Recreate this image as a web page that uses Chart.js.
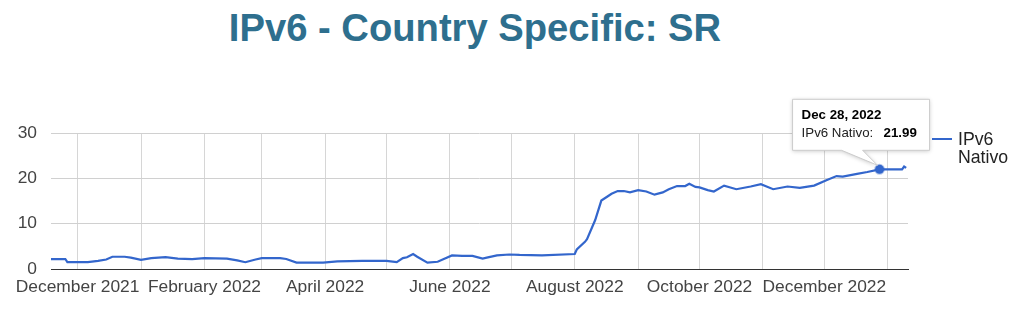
<!DOCTYPE html>
<html>
<head>
<meta charset="utf-8">
<script src="https://cdn.jsdelivr.net/npm/chart.js@4"></script>
<style>
  html, body { margin: 0; padding: 0; background: #fff; }
  #wrap { position: relative; width: 1024px; height: 309px; font-family: "Liberation Sans", Arial, sans-serif; }
  #title { position: absolute; left: 0; top: 8.5px; width: 950px; text-align: center; font-weight: bold; font-size: 38.2px; line-height: 38px; color: #2e6f8e; }
  #chart { position: absolute; left: 0; top: 0; }
  #legend-line { position: absolute; left: 932px; top: 138px; width: 20px; height: 2px; background: #3366cc; }
  #legend-text { position: absolute; left: 958px; top: 130px; font-size: 17.7px; line-height: 18px; color: #222; }
</style>
</head>
<body>
<div id="wrap">
  <div id="title">IPv6 - Country Specific: SR</div>
  <canvas id="chart" width="1024" height="309"></canvas>
  <div id="legend-line"></div>
  <div id="legend-text">IPv6<br>Nativo</div>
</div>
<script>
const seriesName = "IPv6 Nativo";

const dates = [
  "2021-11-18", "2021-11-25", "2021-11-26", "2021-12-06", "2021-12-11", "2021-12-15", "2021-12-18",
  "2021-12-24", "2021-12-27", "2022-01-01", "2022-01-06", "2022-01-13", "2022-01-19", "2022-01-26",
  "2022-02-01", "2022-02-12", "2022-02-17", "2022-02-21", "2022-02-26", "2022-03-01", "2022-03-10",
  "2022-03-13", "2022-03-18", "2022-03-31", "2022-04-07", "2022-04-19", "2022-05-01", "2022-05-06",
  "2022-05-09", "2022-05-11", "2022-05-14", "2022-05-16", "2022-05-21", "2022-05-26", "2022-05-29",
  "2022-06-02", "2022-06-07", "2022-06-12", "2022-06-17", "2022-06-19", "2022-06-24", "2022-06-30",
  "2022-07-05", "2022-07-16", "2022-08-01", "2022-08-02", "2022-08-06", "2022-08-07", "2022-08-11",
  "2022-08-14", "2022-08-17", "2022-08-19", "2022-08-22", "2022-08-25", "2022-08-28", "2022-09-01",
  "2022-09-05", "2022-09-09", "2022-09-13", "2022-09-16", "2022-09-20", "2022-09-24", "2022-09-26",
  "2022-09-29", "2022-10-01", "2022-10-05", "2022-10-08", "2022-10-13", "2022-10-19", "2022-10-26",
  "2022-10-31", "2022-11-06", "2022-11-13", "2022-11-19", "2022-11-26", "2022-12-02", "2022-12-07",
  "2022-12-10", "2022-12-17", "2022-12-22", "2022-12-28", "2023-01-08", "2023-01-09", "2023-01-10"
];

const values = [
  2.2, 2.2, 1.5, 1.5, 1.8, 2.1, 2.7,
  2.7, 2.5, 2.0, 2.4, 2.6, 2.3, 2.2,
  2.4, 2.3, 1.9, 1.5, 2.1, 2.4, 2.4,
  2.2, 1.4, 1.4, 1.7, 1.8, 1.8, 1.5,
  2.4, 2.6, 3.3, 2.7, 1.4, 1.6, 2.2,
  3.0, 2.9, 2.9, 2.3, 2.5, 3.0, 3.2,
  3.1, 3.0, 3.3, 4.3, 6.0, 6.6, 10.8,
  15.1, 16.0, 16.6, 17.2, 17.2, 16.9, 17.4,
  17.1, 16.4, 16.9, 17.6, 18.3, 18.3, 18.8,
  18.1, 18.0, 17.4, 17.1, 18.4, 17.6, 18.2,
  18.7, 17.6, 18.2, 17.9, 18.4, 19.6, 20.5,
  20.4, 21.0, 21.4, 21.99, 21.99, 22.6, 22.3
];

const monthTicks = [
  "2021-12-01", "2022-01-01", "2022-02-01", "2022-03-01", "2022-04-01", "2022-05-01", "2022-06-01",
  "2022-07-01", "2022-08-01", "2022-09-01", "2022-10-01", "2022-11-01", "2022-12-01", "2023-01-01"
];
const tickLabels = [
  "December 2021", "", "February 2022", "", "April 2022", "", "June 2022",
  "", "August 2022", "", "October 2022", "", "December 2022", ""
];

const hiDate = "2022-12-28";
const xMin = "2021-11-18";
const xMax = "2023-01-10";

const monthNames = ["Jan", "Feb", "Mar", "Apr", "May", "Jun", "Jul", "Aug", "Sep", "Oct", "Nov", "Dec"];
const FONT = "'Liberation Sans', Arial, sans-serif";

function dayOf(s) {
  const [y, m, d] = s.split("-").map(Number);
  return Date.UTC(y, m - 1, d) / 864e5;
}

function shortDate(s) {
  const [y, m, d] = s.split("-").map(Number);
  return `${monthNames[m - 1]} ${d}, ${y}`;
}

const hiIdx = dates.indexOf(hiDate);
const points = dates.map((d, i) => ({ x: dayOf(d), y: values[i] }));

// google style callout for the selected point
const calloutPlugin = {
  id: "callout",
  afterDraw(chart) {
    const pt = chart.getDatasetMeta(0).data[hiIdx];
    if (!pt) return;
    const c = chart.ctx;
    const px = pt.x, py = pt.y;
    const bx = px - 87, by = py - 70, bw = 137, bh = 51;

    c.save();
    c.beginPath();
    c.moveTo(bx, by);
    c.lineTo(bx + bw, by);
    c.lineTo(bx + bw, by + bh);
    c.lineTo(px - 17, by + bh);
    c.lineTo(px - 2, py - 4);
    c.lineTo(px - 38, by + bh);
    c.lineTo(bx, by + bh);
    c.closePath();
    c.shadowColor = "rgba(0,0,0,0.22)";
    c.shadowBlur = 4;
    c.shadowOffsetY = 1;
    c.fillStyle = "#fff";
    c.fill();
    c.shadowColor = "transparent";
    c.strokeStyle = "#cccccc";
    c.lineWidth = 1;
    c.stroke();

    c.fillStyle = "#000";
    c.textBaseline = "alphabetic";
    c.textAlign = "left";
    c.font = `bold 13.3px ${FONT}`;
    c.fillText(shortDate(hiDate), bx + 9, by + 20);
    c.font = `13.3px ${FONT}`;
    c.fillStyle = "#222";
    c.fillText(seriesName + ":", bx + 9, by + 38);
    c.font = `bold 13.3px ${FONT}`;
    c.fillStyle = "#000";
    c.fillText(values[hiIdx].toFixed(2), bx + 91, by + 38);
    c.restore();
  }
};

new Chart(document.getElementById("chart"), {
  type: "line",
  data: {
    datasets: [{
      label: seriesName,
      data: points,
      borderColor: "#3366cc",
      backgroundColor: "#3366cc",
      borderWidth: 2.2,
      tension: 0,
      pointRadius: (ctx) => ctx.dataIndex === hiIdx ? 4.5 : 0,
      pointBorderWidth: 2,
      pointBorderColor: "rgba(51,102,204,0.35)",
      pointBackgroundColor: "#3366cc"
    }]
  },
  options: {
    responsive: false,
    animation: false,
    events: [],
    layout: { padding: { top: 133, right: 116, left: 0, bottom: 0 } },
    plugins: {
      legend: { display: false },
      tooltip: { enabled: false },
      title: { display: false }
    },
    scales: {
      x: {
        type: "linear",
        min: dayOf(xMin),
        max: dayOf(xMax) + 0.9,
        afterBuildTicks: (scale) => {
          scale.ticks = monthTicks.map((m) => ({ value: dayOf(m) }));
        },
        afterFit: (scale) => { scale.height = 40; },
        ticks: {
          autoSkip: false,
          maxRotation: 0,
          minRotation: 0,
          padding: 8,
          color: "#444",
          font: { family: FONT, size: 17.4 },
          callback: (v, i) => tickLabels[i]
        },
        grid: { color: "#d6d6d6", drawTicks: false },
        border: { display: true, color: "#333", width: 1 }
      },
      y: {
        min: 0,
        max: 30,
        afterFit: (scale) => { scale.width = 51; },
        ticks: {
          stepSize: 5,
          padding: 14,
          color: "#444",
          font: { family: FONT, size: 17.4 },
          callback: (v) => v % 10 === 0 ? v : ""
        },
        grid: {
          drawTicks: false,
          color: (ctx) => ctx.tick.value === 0 ? "#333" : (ctx.tick.value % 10 ? "#ededed" : "#d0d0d0")
        },
        border: { display: false }
      }
    }
  },
  plugins: [calloutPlugin]
});
</script>
</body>
</html>
